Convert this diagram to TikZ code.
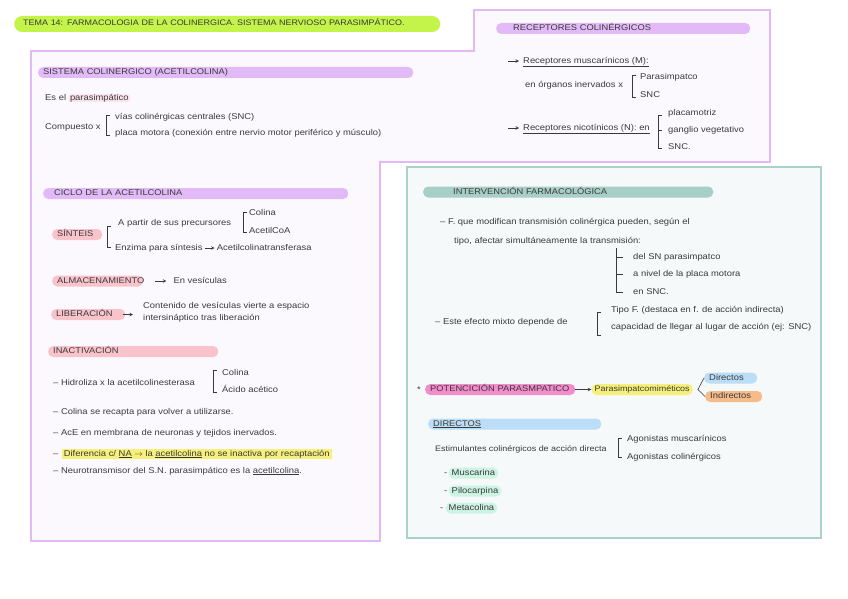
\documentclass[tikz,border=0pt]{standalone}
\usepackage{fontspec}
\setmainfont{Liberation Sans}[FakeStretch=1.12]
\usepackage{xcolor}
\usepackage{tikz}
\usetikzlibrary{positioning}

\definecolor{ink}{HTML}{3A3A3A}
\definecolor{lime}{HTML}{C4F34A}
\definecolor{purpline}{HTML}{E2B9F6}
\definecolor{panel}{HTML}{FCF9FE}
\definecolor{purp}{HTML}{E2BAF7}
\definecolor{tealline}{HTML}{A9D3C9}
\definecolor{tealbg}{HTML}{F5F9F9}
\definecolor{tealc}{HTML}{A8CFC5}
\definecolor{pinkc}{HTML}{F9C3CC}
\definecolor{pinksoft}{HTML}{FBE4EC}
\definecolor{hotpink}{HTML}{F28CCB}
\definecolor{yell}{HTML}{F6F07A}
\definecolor{bluec}{HTML}{BCDDF7}
\definecolor{orangec}{HTML}{F6BB8B}
\definecolor{mint}{HTML}{CDF3E4}

\newcommand{\tagfont}{\fontsize{8.3}{9.5}\selectfont}
\newcommand{\notefont}{\fontsize{8.4}{9.8}\selectfont}

\begin{document}
\begin{tikzpicture}[x=1pt, y=-1pt,
  txt/.style={anchor=west, inner sep=0pt, text=ink, font=\notefont,
    text height=6pt, text depth=1.8pt},
  tag/.style={fill=#1, rounded corners=5pt, anchor=west, inner xsep=5pt,
    inner ysep=2pt, text=ink, font=\tagfont, text height=5.5pt,
    text depth=1.5pt, align=left},
  brk/.style={draw=ink, line width=0.6pt},
  arr/.style={->, >=stealth, draw=ink, line width=0.6pt}]
  \useasboundingbox[fill=white] (0,0) rectangle (848,599);

  % panels
  \draw[purpline, fill=panel, line width=1.6pt]
    (31,51) -- (474,51) -- (474,10) -- (770,10) -- (770,162)
    -- (380,162) -- (380,541) -- (31,541) -- cycle;
  \draw[tealline, fill=tealbg, line width=1.6pt] (407,167) rectangle (821,538);

  % title
  \node[tag=lime, font=\fontsize{8}{9.5}\selectfont, rounded corners=8pt,
        inner xsep=9pt, inner ysep=4.5pt, text width=408pt] (title) at (14,24)
    {TEMA 14: FARMACOLOGIA DE LA COLINERGICA. SISTEMA NERVIOSO PARASIMPÁTICO.};

  % sistema colinergico
  \node[tag=purp, text width=365pt] (sist) at (38,72.5) {SISTEMA COLINERGICO (ACETILCOLINA)};
  \node[txt] (esel) at (45,98) {Es el};
  \node[txt, fill=pinksoft, rounded corners=3pt, inner xsep=1.5pt, right=2pt of esel] (paras) {parasimpático};
  \node[txt] (comp) at (45,127) {Compuesto x};
  \draw[brk] (110,115) -- (106,115) -- (106,135) -- (110,135);
  \node[txt] (vias) at (115,117) {vías colinérgicas centrales (SNC)};
  \node[txt] (placa) at (115,133) {placa motora (conexión entre nervio motor periférico y músculo)};

  % receptores
  \node[tag=purp, text width=244pt] (rec) at (496,28.5) {\hspace*{12pt}RECEPTORES COLINÉRGICOS};
  \coordinate (a1) at (508,61);
  \node[txt] (musc) at (523,61) {\underline{Receptores muscarínicos (M):}};
  \draw[arr] (a1) -- ([xshift=-4pt]musc.west);
  \node[txt] (organos) at (525,85) {en órganos inervados x};
  \draw[brk] (636,75) -- (632,75) -- (632,97) -- (636,97);
  \node[txt] (psimp) at (640,77) {Parasimpatco};
  \node[txt] (snc1) at (640,95) {SNC};
  \coordinate (a2) at (508,128);
  \node[txt] (nico) at (523,128) {\underline{Receptores nicotínicos (N): en}};
  \draw[arr] (a2) -- ([xshift=-4pt]nico.west);
  \draw[brk] (662,115) -- (658,115) -- (658,148) -- (662,148);
  \draw[brk] (658,130) -- (662,130);
  \node[txt] (pmotriz) at (668,113) {placamotriz};
  \node[txt] (ganglio) at (668,130) {ganglio vegetativo};
  \node[txt] (snc2) at (668,147) {SNC.};

  % ciclo
  \node[tag=purp, text width=295pt] (ciclo) at (43,193.5) {\hspace*{6pt}CICLO DE LA ACETILCOLINA};
  \node[tag=pinkc, text width=40pt] (sint) at (52,234.5) {SÍNTEIS};
  \draw[brk] (111,226) -- (107,226) -- (107,247) -- (111,247);
  \node[txt] (partir) at (118,223) {A partir de sus precursores};
  \draw[brk] (247,212) -- (243,212) -- (243,232) -- (247,232);
  \node[txt] (colina1) at (249,213) {Colina};
  \node[txt] (acoa) at (249,231) {AcetilCoA};
  \node[txt] (enz) at (115,248) {Enzima para síntesis};
  \node[txt, right=14pt of enz] (acat) {Acetilcolinatransferasa};
  \draw[arr] ([xshift=2pt]enz.east) -- ([xshift=-2pt]acat.west);

  \node[tag=pinkc, text width=81pt] (alm) at (52,281) {ALMACENAMIENTO};
  \node[txt, right=30pt of alm] (ves) {En vesículas};
  \draw[arr] ([xshift=12pt]alm.east) -- ([xshift=-7pt]ves.west);

  \node[tag=pinkc, text width=64pt] (lib) at (51,314.5) {LIBERACIÓN};
  \coordinate (libend) at (133,314.5);
  \draw[arr] ([xshift=-2pt]lib.east) -- (libend);
  \node[txt] (cont) at (143,306) {Contenido de vesículas vierte a espacio};
  \node[txt] (inters) at (143,318) {intersináptico tras liberación};

  % inactivacion
  \node[tag=pinkc, text width=160pt] (inact) at (48,351.5) {INACTIVACIÓN};
  \node[txt] (hidro) at (53,383) {– Hidroliza x la acetilcolinesterasa};
  \draw[brk] (217,370) -- (213,370) -- (213,392) -- (217,392);
  \node[txt] (colina2) at (222,373) {Colina};
  \node[txt] (acido) at (222,390) {Ácido acético};
  \node[txt] (recap) at (53,412) {– Colina se recapta para volver a utilizarse.};
  \node[txt] (ace) at (53,433) {– AcE en membrana de neuronas y tejidos inervados.};
  \node[txt] (dash1) at (53,454) {–};
  \node[txt, fill=yell, inner xsep=2pt, inner ysep=1pt, right=3pt of dash1] (dif)
    {Diferencia c/ \underline{NA} $\rightarrow$ la \underline{acetilcolina} no se inactiva por recaptación};
  \node[txt] (neuro) at (53,471) {– Neurotransmisor del S.N. parasimpático es la \underline{acetilcolina}.};

  % intervencion farmacologica
  \node[tag=tealc, text width=280pt] (interv) at (423,192) {\hspace*{25pt}INTERVENCIÓN FARMACOLÓGICA};
  \node[txt] (fmod) at (440,222) {– F. que modifican transmisión colinérgica pueden, según el};
  \node[txt] (tipo) at (454,241) {tipo, afectar simultáneamente la transmisión:};
  \draw[brk] (616,248) -- (616,292);
  \foreach \y in {257,274,292}
    \draw[brk] (616,\y) -- (623,\y);
  \node[txt] (delsn) at (633,257) {del SN parasimpatco};
  \node[txt] (nivel) at (633,274) {a nivel de la placa motora};
  \node[txt] (ensnc) at (633,292) {en SNC.};
  \node[txt] (mixto) at (435,322) {– Este efecto mixto depende de};
  \draw[brk] (601,312) -- (597,312) -- (597,335) -- (601,335);
  \node[txt] (tipof) at (611,310) {Tipo F. (destaca en f. de acción indirecta)};
  \node[txt] (capac) at (611,327) {capacidad de llegar al lugar de acción (ej: SNC)};

  % potenciacion
  \node[txt] (star) at (417,390) {*};
  \node[tag=hotpink, text width=140pt] (poten) at (425,389.5) {POTENCICIÓN PARASMPATICO};
  \node[tag=yell, font=\fontsize{8}{9.5}\selectfont, inner xsep=3pt, right=16pt of poten] (psm) {Parasimpatcomiméticos};
  \draw[arr] (poten) -- (psm);
  \node[tag=bluec, font=\notefont, text width=43pt] (dir) at (704,378) {Directos};
  \node[tag=orangec, font=\notefont, text width=47pt] (indir) at (705,396.5) {Indirectos};
  \coordinate (fork) at ([xshift=5pt]psm.east);
  \draw[brk] (dir.west) -- (fork) -- (indir.west);

  % directos
  \node[tag=bluec, text width=163pt] (direct) at (428,424) {\underline{DIRECTOS}};
  \node[txt, font=\fontsize{8}{9.5}\selectfont] (estim) at (435,449) {Estimulantes colinérgicos de acción directa};
  \draw[brk] (622,438) -- (618,438) -- (618,457) -- (622,457);
  \node[txt] (agm) at (627,439) {Agonistas muscarínicos};
  \node[txt] (agc) at (627,457) {Agonistas colinérgicos};
  \node[txt] (d1) at (444,473) {-};
  \node[tag=mint, font=\notefont, inner xsep=3pt, right=1pt of d1] (musca) {Muscarina};
  \node[txt] (d2) at (444,491) {-};
  \node[tag=mint, font=\notefont, inner xsep=3pt, right=1pt of d2] (piloc) {Pilocarpina};
  \node[txt] (d3) at (440,508) {-};
  \node[tag=mint, font=\notefont, inner xsep=3pt, right=2pt of d3] (metac) {Metacolina};
\end{tikzpicture}
\end{document}
